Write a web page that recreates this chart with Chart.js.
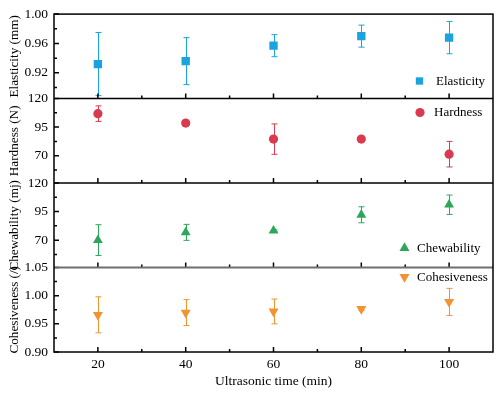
<!DOCTYPE html>
<html>
<head>
<meta charset="utf-8">
<script src="https://cdn.jsdelivr.net/npm/chart.js@4.4.0/dist/chart.umd.min.js"></script>
<style>
  html, body { margin: 0; padding: 0; background: #fff; }
  #wrap { width: 499px; height: 394px; }
</style>
</head>
<body>
<div id="wrap"><canvas id="texture" width="499" height="394"></canvas></div>
<script>
// ultrasonic treatment time (min)
const times = [20, 40, 60, 80, 100];

// texture profile values (mean and +/- error)
const elasticity = [0.932, 0.936, 0.957, 0.970, 0.968];
const elasticityErr = [0.043, 0.032, 0.015, 0.015, 0.022];
const hardness = [106.8, 98.5, 84.5, 84.5, 71.3];
const hardnessErr = [6.8, 1.5, 13.3, 1.2, 11.2];
const chewability = [70.0, 76.8, 78.2, 92.2, 101.0];
const chewabilityErr = [13.5, 7.0, 0.8, 7.0, 8.5];
const cohesiveness = [0.966, 0.970, 0.972, 0.9765, 0.989];
const cohesivenessErr = [0.032, 0.023, 0.022, 0.003, 0.024];

// tick labels
const xTicks = [20, 40, 60, 80, 100];
const xMinor = [30, 50, 70, 90];
const elasTicks = [0.92, 0.96, 1.00];
const elasMinor = [0.90, 0.94, 0.98];
const forceTicks = [70, 95, 120];
const forceMinor = [57.5, 82.5, 107.5];
const cohTicks = [0.90, 0.95, 1.00, 1.05];
const cohMinor = [0.925, 0.975, 1.025];

const serif = 'Liberation Serif';

function points(ys) {
    return times.map((t, i) => ({ x: t, y: ys[i] }));
}

function yAxis(title, min, max, ticks, minor, weight, digits) {
    return {
        type: 'linear',
        position: 'left',
        stack: 'texture',
        stackWeight: 1,
        weight: weight,
        min: min,
        max: max,
        minorTicks: minor,
        afterBuildTicks: s => { s.ticks = ticks.map(v => ({ value: v })); },
        afterFit: s => { s.width = 54; },
        grid: { display: false, drawTicks: false },
        border: { display: false },
        ticks: {
            autoSkip: false,
            padding: 6,
            color: '#000',
            font: { family: serif, size: 13.5 },
            callback: v => v.toFixed(digits)
        },
        title: {
            display: true,
            text: title,
            color: '#000',
            font: { family: serif, size: 13.2 },
            padding: { top: 7, bottom: 0 }
        }
    };
}

// error bars, frame, inward ticks and the per-panel legends
const texturePlugin = {
    id: 'texture',
    beforeDatasetsDraw(chart) {
        const ctx = chart.ctx;
        const xs = chart.scales.x;
        ctx.save();
        chart.data.datasets.forEach(ds => {
            const ys = chart.scales[ds.yAxisID];
            ctx.strokeStyle = ds.borderColor;
            ctx.lineWidth = 1;
            ds.data.forEach((p, i) => {
                const e = ds.errors[i];
                const px = Math.round(xs.getPixelForValue(p.x)) + 0.5;
                const top = ys.getPixelForValue(p.y + e);
                const bot = ys.getPixelForValue(p.y - e);
                ctx.beginPath();
                ctx.moveTo(px, top); ctx.lineTo(px, bot);
                ctx.moveTo(px - 3, top); ctx.lineTo(px + 3, top);
                ctx.moveTo(px - 3, bot); ctx.lineTo(px + 3, bot);
                ctx.stroke();
            });
        });
        ctx.restore();
    },
    afterDatasetsDraw(chart) {
        const ctx = chart.ctx;
        const area = chart.chartArea;
        const xs = chart.scales.x;
        const panels = ['yElas', 'yHard', 'yChew', 'yCoh'].map(id => chart.scales[id]);
        ctx.save();
        ctx.lineWidth = 1.5;
        ctx.strokeStyle = '#000';

        // ticks pointing into each panel
        panels.forEach(s => {
            ctx.beginPath();
            s.ticks.forEach(t => {
                const py = s.getPixelForValue(t.value);
                ctx.moveTo(area.left, py); ctx.lineTo(area.left + 5, py);
            });
            s.options.minorTicks.forEach(v => {
                const py = s.getPixelForValue(v);
                ctx.moveTo(area.left, py); ctx.lineTo(area.left + 3, py);
            });
            xTicks.forEach(v => {
                const px = xs.getPixelForValue(v);
                ctx.moveTo(px, s.bottom); ctx.lineTo(px, s.bottom - 5);
            });
            xMinor.forEach(v => {
                const px = xs.getPixelForValue(v);
                ctx.moveTo(px, s.bottom); ctx.lineTo(px, s.bottom - 3);
            });
            ctx.stroke();
        });

        // panel separators
        panels.slice(0, 3).forEach((s, i) => {
            ctx.strokeStyle = i === 2 ? '#6e6e6e' : '#000';
            ctx.lineWidth = i === 2 ? 2 : 1.5;
            ctx.beginPath();
            ctx.moveTo(area.left, s.bottom); ctx.lineTo(area.right, s.bottom);
            ctx.stroke();
        });

        // outer frame
        ctx.strokeStyle = '#000';
        ctx.lineWidth = 1.5;
        ctx.strokeRect(area.left, area.top, area.right - area.left, area.bottom - area.top);

        // legends
        const legends = chart.options.plugins.texture.legends;
        ctx.font = '13px "' + serif + '"';
        ctx.textBaseline = 'middle';
        ctx.textAlign = 'left';
        legends.forEach(l => {
            const ds = chart.data.datasets[l.index];
            ctx.fillStyle = ds.backgroundColor;
            Chart.helpers.drawPoint(ctx, {
                pointStyle: ds.pointStyle,
                rotation: ds.pointRotation || 0,
                radius: l.radius,
                borderWidth: 0
            }, l.mx, l.my);
            ctx.fillStyle = '#000';
            ctx.fillText(ds.label, l.tx, l.my + 0.5);
        });
        ctx.restore();
    }
};

new Chart(document.getElementById('texture').getContext('2d'), {
    type: 'scatter',
    data: {
        datasets: [{
            label: 'Elasticity',
            data: points(elasticity),
            errors: elasticityErr,
            yAxisID: 'yElas',
            pointStyle: 'rect',
            pointRadius: 5.9,
            backgroundColor: '#1ba3dd',
            borderColor: '#1ba3dd',
            borderWidth: 0
        }, {
            label: 'Hardness',
            data: points(hardness),
            errors: hardnessErr,
            yAxisID: 'yHard',
            pointStyle: 'circle',
            pointRadius: 4.6,
            backgroundColor: '#da3a50',
            borderColor: '#da3a50',
            borderWidth: 0
        }, {
            label: 'Chewability',
            data: points(chewability),
            errors: chewabilityErr,
            yAxisID: 'yChew',
            pointStyle: 'triangle',
            pointRadius: 5.7,
            backgroundColor: '#2ca75a',
            borderColor: '#2ca75a',
            borderWidth: 0
        }, {
            label: 'Cohesiveness',
            data: points(cohesiveness),
            errors: cohesivenessErr,
            yAxisID: 'yCoh',
            pointStyle: 'triangle',
            pointRotation: 180,
            pointRadius: 5.8,
            backgroundColor: '#f29331',
            borderColor: '#f29331',
            borderWidth: 0
        }]
    },
    options: {
        responsive: false,
        animation: false,
        layout: { padding: { top: 14, right: 6, left: 0, bottom: 0 } },
        scales: {
            x: {
                type: 'linear',
                min: 10,
                max: 110,
                afterBuildTicks: s => { s.ticks = xTicks.map(v => ({ value: v })); },
                afterFit: s => { s.height = 42; },
                grid: { display: false, drawTicks: false },
                border: { display: false },
                ticks: {
                    autoSkip: false,
                    padding: 4,
                    color: '#000',
                    font: { family: serif, size: 13.5 }
                },
                title: {
                    display: true,
                    text: 'Ultrasonic time (min)',
                    color: '#000',
                    font: { family: serif, size: 13.5 },
                    padding: { top: 0, bottom: 4 }
                }
            },
            yCoh: yAxis('Cohesiveness (/)', 0.90, 1.05, cohTicks, cohMinor, 1, 2),
            yChew: yAxis('Chewability (mj)', 46, 120, forceTicks, forceMinor, 2, 0),
            yHard: yAxis('Hardness (N)', 46, 120, forceTicks, forceMinor, 3, 0),
            yElas: yAxis('Elasticity (mm)', 0.885, 1.00, elasTicks, elasMinor, 4, 2)
        },
        plugins: {
            legend: { display: false },
            tooltip: { enabled: false },
            texture: {
                legends: [
                    { index: 0, mx: 419.5, my: 81, tx: 436, radius: 5.2 },
                    { index: 1, mx: 420, my: 112.5, tx: 434, radius: 4.6 },
                    { index: 2, mx: 404.5, my: 248, tx: 417, radius: 5.8 },
                    { index: 3, mx: 404.5, my: 277, tx: 417, radius: 5.8 }
                ]
            }
        }
    },
    plugins: [texturePlugin]
});
</script>
</body>
</html>
